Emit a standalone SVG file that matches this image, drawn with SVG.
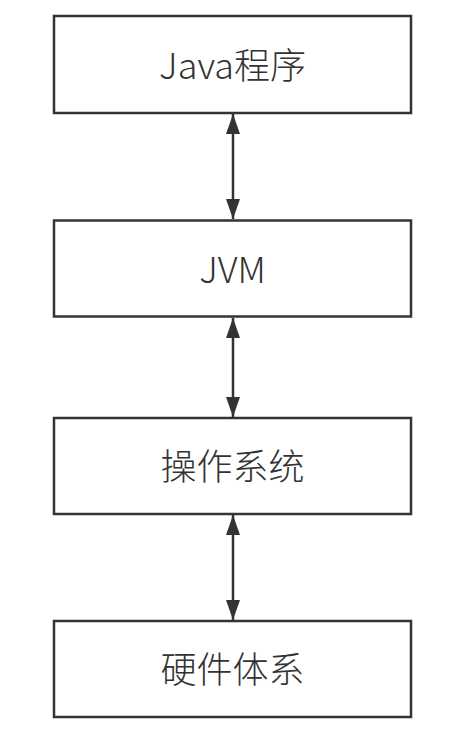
<svg xmlns="http://www.w3.org/2000/svg" width="471" height="738" viewBox="0 0 471 738">
<style>
.box{fill:#fff;stroke:#333;stroke-width:2.5}
.lbl{font-family:"Noto Sans CJK SC","Noto Sans",sans-serif;font-size:36px;font-weight:300;fill:#333;text-anchor:middle}
.con{stroke:#333;stroke-width:2.5;fill:none;marker-start:url(#ah);marker-end:url(#ah)}
</style>
<defs>
<marker id="ah" viewBox="0 0 20 14" refX="20" refY="7" markerWidth="20" markerHeight="14" markerUnits="userSpaceOnUse" orient="auto-start-reverse">
<path d="M0,0 L20,7 L0,14 Z" fill="#333"/>
</marker>
</defs>
<rect width="471" height="738" fill="#fff"/>
<g id="connectors">
<line class="con" x1="233" y1="114" x2="233" y2="219"/>
<line class="con" x1="233" y1="318" x2="233" y2="417"/>
<line class="con" x1="233" y1="515" x2="233" y2="620"/>
</g>
<g id="java"><rect class="box" x="54" y="16" width="357" height="97"/><text class="lbl" x="232.5" y="79">Java程序</text></g>
<g id="jvm"><rect class="box" x="54" y="220.5" width="357" height="96"/><text class="lbl" x="232.5" y="283">JVM</text></g>
<g id="os"><rect class="box" x="54" y="418" width="357" height="96"/><text class="lbl" x="232.5" y="480">操作系统</text></g>
<g id="hw"><rect class="box" x="54" y="621" width="357" height="96"/><text class="lbl" x="232.5" y="683">硬件体系</text></g>
</svg>
